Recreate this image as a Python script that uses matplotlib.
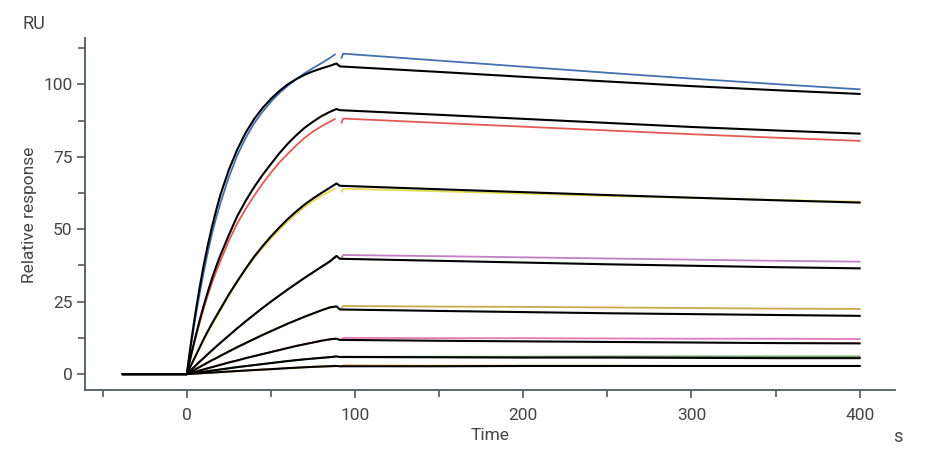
import numpy as np
import matplotlib.pyplot as plt
from matplotlib.ticker import MultipleLocator

plt.rcParams['font.family'] = ['Roboto', 'DejaVu Sans']

# tempo da fase de associacao (s)
t_assoc = [0, 2.5, 5, 7.5, 10, 12.5, 15, 17.5, 20, 25, 30, 35, 40, 45,
           50, 55, 60, 65, 70, 75, 80, 85, 89]
# as curvas medidas param um pouco antes
t_assoc_dados = t_assoc[:-1] + [88]
# tempo da fase de dissociacao (s)
t_dissoc = [91, 150, 200, 250, 300, 350, 400]
# curvas medidas: pequeno gancho no inicio da dissociacao
t_dissoc_dados = [92, 93, 150, 200, 250, 300, 350, 400]
t_base = [-38, 0]

cores = ["#4470b0", "#e25a55", "#e2dc55", "#c27fc4", "#c9a84e",
         "#e27ab8", "#6aa86a", "#e3a33f"]

# dados medidos (RU) - associacao
dados_assoc = [
    [0, 9.8, 19, 27.3, 35, 42, 48.5, 54, 59, 68, 75.5, 81.5, 86.5, 90.5,
     94, 97, 99.5, 101.8, 103.8, 105.6, 107.3, 109.1, 110.3],
    [0, 6.2, 12, 17.4, 22.5, 27.2, 31.5, 35.4, 39, 46, 52, 57, 61.5, 65.7,
     69.5, 73, 76, 78.9, 81.5, 83.7, 85.5, 87.1, 88],
    [0, 3, 6, 8.9, 11.8, 14.5, 17, 19.5, 22, 27, 32, 36, 40, 43.5,
     46.8, 49.8, 52.7, 55.3, 57.6, 59.7, 61.5, 63, 64],
    [0, 1.4, 2.8, 4.2, 5.5, 6.9, 8.2, 9.5, 10.8, 13.3, 15.8, 18.2, 20.5, 22.8,
     25, 27.1, 29.2, 31.2, 33.2, 35.1, 37, 38.7, 40.1],
    [0, 0.8, 1.6, 2.4, 3.2, 4, 4.8, 5.5, 6.3, 7.8, 9.3, 10.7, 12.1, 13.5,
     14.8, 16.1, 17.4, 18.6, 19.8, 20.9, 22, 23, 23.2],
    [0, 0.4, 0.8, 1.2, 1.6, 2, 2.4, 2.8, 3.2, 4, 4.7, 5.5, 6.2, 6.9,
     7.6, 8.3, 9, 9.7, 10.3, 10.9, 11.5, 12, 12.3],
    [0, 0.2, 0.4, 0.6, 0.8, 1, 1.2, 1.4, 1.6, 2, 2.4, 2.75, 3.1, 3.45,
     3.8, 4.15, 4.5, 4.8, 5.1, 5.35, 5.6, 5.85, 6],
    [0, 0.09, 0.18, 0.26, 0.35, 0.44, 0.52, 0.61, 0.7, 0.88, 1.05, 1.22, 1.4, 1.55,
     1.7, 1.88, 2.05, 2.2, 2.35, 2.5, 2.65, 2.78, 2.9],
]
# dados medidos (RU) - dissociacao
dados_dissoc = [
    [109.2, 110.6, 108.2, 106.1, 104.0, 102.0, 100.1, 98.3],
    [86.8, 88.2, 86.7, 85.4, 84.1, 82.8, 81.6, 80.5],
    [63.0, 64.0, 63.1, 62.3, 61.5, 60.8, 60.1, 59.5],
    [40.2, 41.1, 40.7, 40.3, 39.9, 39.5, 39.1, 38.8],
    [22.8, 23.5, 23.3, 23.2, 23.0, 22.8, 22.6, 22.5],
    [12.0, 12.5, 12.4, 12.4, 12.3, 12.2, 12.2, 12.1],
    [5.8, 6.0, 6.0, 6.0, 6.1, 6.1, 6.1, 6.1],
    [2.6, 3.0, 2.9, 2.9, 2.9, 2.8, 2.8, 2.8],
]

# ajuste (preto) - associacao
ajuste_assoc = [
    [0, 10.8, 20.6, 29.4, 37.4, 44.5, 50.9, 56.6, 61.9, 70.5, 77.5, 83.3, 88, 91.8,
     95, 97.7, 100, 101.8, 103.3, 104.5, 105.5, 106.4, 107.2],
    [0, 6.4, 12.5, 18.2, 23.5, 28.4, 33, 37.2, 41, 48, 54.5, 59.8, 64.5, 68.7,
     72.5, 76.2, 79.5, 82.4, 85, 87.1, 89, 90.5, 91.5],
    [0, 3, 6, 9, 12, 14.8, 17.5, 20, 22.5, 27.5, 32, 36.4, 40.5, 44.1,
     47.5, 50.6, 53.5, 56.1, 58.5, 60.6, 62.5, 64.3, 65.8],
    [0, 1.4, 2.8, 4.2, 5.5, 6.9, 8.2, 9.5, 10.8, 13.3, 15.8, 18.2, 20.5, 22.8,
     25, 27.1, 29.2, 31.2, 33.2, 35.1, 37, 38.9, 40.8],
    [0, 0.8, 1.6, 2.4, 3.2, 4, 4.8, 5.5, 6.3, 7.8, 9.3, 10.7, 12.1, 13.5,
     14.8, 16.1, 17.4, 18.6, 19.8, 20.9, 22, 23, 23.4],
    [0, 0.4, 0.8, 1.2, 1.6, 2, 2.4, 2.8, 3.2, 4, 4.7, 5.5, 6.2, 6.9,
     7.6, 8.3, 9, 9.7, 10.3, 10.9, 11.5, 12, 12.2],
    [0, 0.2, 0.4, 0.6, 0.8, 1, 1.2, 1.4, 1.6, 2, 2.4, 2.75, 3.1, 3.45,
     3.8, 4.15, 4.5, 4.8, 5.1, 5.35, 5.6, 5.85, 6.1],
    [0, 0.09, 0.18, 0.26, 0.35, 0.44, 0.52, 0.61, 0.7, 0.88, 1.05, 1.22, 1.4, 1.55,
     1.7, 1.88, 2.05, 2.2, 2.35, 2.5, 2.6, 2.7, 2.8],
]
# ajuste (preto) - dissociacao
ajuste_dissoc = [
    [106.2, 104.3, 102.6, 101.0, 99.4, 98.0, 96.7],
    [91.1, 89.5, 88.1, 86.7, 85.3, 84.1, 83.0],
    [65.0, 63.8, 62.8, 61.8, 60.9, 60.0, 59.2],
    [39.8, 39.1, 38.5, 37.9, 37.4, 36.9, 36.5],
    [22.3, 21.8, 21.4, 21.0, 20.7, 20.4, 20.1],
    [11.8, 11.5, 11.3, 11.1, 10.9, 10.7, 10.6],
    [5.9, 5.8, 5.7, 5.7, 5.6, 5.5, 5.5],
    [2.7, 2.7, 2.8, 2.8, 2.8, 2.8, 2.8],
]

fig = plt.figure(figsize=(9.26, 4.62), dpi=100)
ax = fig.add_axes([0.0918, 0.1558, 0.8747, 0.7619])

for i, cor in enumerate(cores):
    ax.plot(t_assoc_dados, dados_assoc[i], color=cor, lw=1.3)
    ax.plot(t_dissoc_dados, dados_dissoc[i], color=cor, lw=1.3)

for i in range(len(cores)):
    t = t_base + t_assoc[1:] + t_dissoc
    y = [0, 0] + ajuste_assoc[i][1:] + ajuste_dissoc[i]
    ax.plot(t, y, color="black", lw=1.5)

ax.set_xlim(-60.5, 421)
ax.set_ylim(-5.5, 116)

ax.xaxis.set_major_locator(MultipleLocator(100))
ax.xaxis.set_minor_locator(MultipleLocator(50))
ax.yaxis.set_major_locator(MultipleLocator(25))
ax.yaxis.set_minor_locator(MultipleLocator(12.5))

cinza = "#505a60"
for lado in ["top", "right"]:
    ax.spines[lado].set_visible(False)
for lado in ["left", "bottom"]:
    ax.spines[lado].set_color(cinza)
    ax.spines[lado].set_linewidth(1.3)

ax.tick_params(which="major", length=6, width=1.2, color=cinza,
               labelsize=12.5, labelcolor="#444444")
ax.tick_params(which="minor", length=5, width=1.2, color=cinza)
ax.tick_params(axis="y", which="major", pad=3)
ax.tick_params(axis="x", which="major", pad=7)

ax.set_ylabel("Relative response", fontsize=12.5, color="#444444")
ax.set_xlabel("Time", fontsize=12.5, color="#444444")
ax.yaxis.set_label_coords(-0.059, 0.497)
ax.xaxis.set_label_coords(0.5, -0.108)
fig.text(22 / 926, 1 - 24 / 462, "RU", fontsize=13, color="#444444",
         va="center", ha="left")
fig.text(898 / 926, 1 - 437 / 462, "s", fontsize=13, color="#444444",
         va="center", ha="center")

fig.savefig("out.png", dpi=100)
